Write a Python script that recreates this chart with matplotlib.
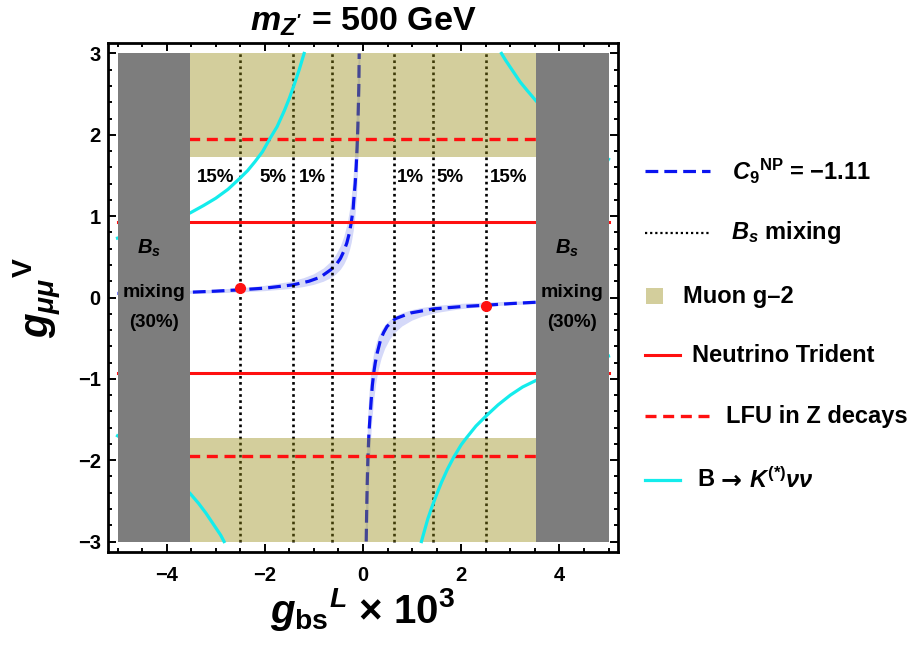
import matplotlib
matplotlib.use("Agg")
import matplotlib.pyplot as plt
from matplotlib.lines import Line2D
from matplotlib.patches import Rectangle

plt.rcParams['font.family'] = ['Liberation Sans', 'DejaVu Sans']
plt.rcParams['font.weight'] = 'bold'
plt.rcParams['mathtext.fontset'] = 'custom'
plt.rcParams['mathtext.rm'] = 'Liberation Sans:bold'
plt.rcParams['mathtext.it'] = 'Liberation Sans:italic:bold'
plt.rcParams['mathtext.bf'] = 'Liberation Sans:bold'
plt.rcParams['axes.unicode_minus'] = True

# ---------------- data ----------------
# C9^NP = -1.11 central curve (two branches)
c9_ul_x = [-5.0, -4.5, -4.0, -3.52, -3.0, -2.5, -2.0, -1.43, -1.1, -0.87, -0.66, -0.54,
           -0.46, -0.39, -0.33, -0.275, -0.235, -0.2, -0.188, -0.16, -0.14, -0.12, -0.105,
           -0.095, -0.085, -0.078]
c9_ul_y = [0.05, 0.055, 0.06, 0.065, 0.078, 0.095, 0.115, 0.155, 0.2, 0.25, 0.34, 0.41,
           0.48, 0.57, 0.67, 0.8, 0.94, 1.1, 1.2, 1.4, 1.6, 1.85, 2.1, 2.35, 2.6, 3.0]
c9_lr_x = [0.065, 0.075, 0.085, 0.098, 0.12, 0.145, 0.167, 0.19, 0.22, 0.25, 0.29, 0.357,
           0.42, 0.49, 0.66, 0.97, 1.43, 2.0, 2.5, 3.0, 3.52, 4.0, 4.5, 5.0]
c9_lr_y = [-3.0, -2.6, -2.3, -2.0, -1.67, -1.45, -1.26, -1.08, -0.92, -0.8, -0.68, -0.52,
           -0.43, -0.355, -0.26, -0.19, -0.14, -0.112, -0.095, -0.075, -0.058, -0.048,
           -0.042, -0.036]
# band edges around the C9 curve (|x|, |y| pairs, mirrored for the two branches)
band_x = [5.0, 4.0, 3.0, 2.5, 2.0, 1.5, 1.2, 1.0, 0.8, 0.65, 0.55, 0.45, 0.38, 0.32,
          0.27, 0.23, 0.19, 0.16, 0.13, 0.115, 0.1, 0.075, 0.05]
band_outer = [0.057, 0.071, 0.095, 0.114, 0.143, 0.19, 0.238, 0.285, 0.356, 0.438, 0.518,
              0.633, 0.75, 0.89, 1.056, 1.24, 1.5, 1.78, 2.19, 2.48, 2.85, 3.0, 3.0]
band_inner = [0.031, 0.039, 0.052, 0.062, 0.078, 0.103, 0.129, 0.155, 0.194, 0.238, 0.282,
              0.344, 0.408, 0.484, 0.574, 0.674, 0.816, 0.969, 1.19, 1.35, 1.55, 2.07, 3.0]
# benchmark points
bench_x = [-2.5, 2.5]
bench_y = [0.12, -0.11]

# Bs mixing contours (vertical dotted lines) and labels
bs_lines_x = [-2.5, -1.43, -0.64, 0.64, 1.43, 2.5]
bs_label_x = [-3.0, -1.83, -1.03, 0.97, 1.77, 2.97]
bs_labels = ['15%', '5%', '1%', '1%', '5%', '15%']
bs_label_y = 1.47
# Bs mixing (30%) excluded region |g_bs| > 3.52
bs_excl_x = [3.52, 5.0]
y_range = [-3.0, 3.0]

# Muon g-2 favoured band
muon_x = [-3.52, 3.52]
muon_y = [1.73, 3.0]

# Neutrino trident and LFU in Z decays
trident_y = 0.93
lfu_y = 1.95
line_x = [-5.0, 5.0]

# B -> K(*) nu nu bounds (four branches)
bk1_x = [-5.0, -4.75, -4.5, -4.25, -4.0, -3.75, -3.52, -3.25, -3.0, -2.75, -2.5, -2.35,
         -2.2, -2.05, -1.89, -1.75, -1.6, -1.5, -1.4, -1.3, -1.2]
bk1_y = [0.73, 0.77, 0.81, 0.86, 0.92, 0.98, 1.04, 1.13, 1.22, 1.33, 1.47, 1.56,
         1.67, 1.79, 1.96, 2.1, 2.3, 2.45, 2.62, 2.8, 3.0]
bk2_x = [1.19, 1.25, 1.32, 1.4, 1.5, 1.6, 1.72, 1.85, 2.0, 2.1, 2.3, 2.5, 2.75, 3.0,
         3.25, 3.52, 3.75, 4.0, 4.5, 5.0]
bk2_y = [-3.0, -2.87, -2.72, -2.58, -2.42, -2.27, -2.11, -1.96, -1.81, -1.73, -1.58,
         -1.46, -1.32, -1.2, -1.1, -1.02, -0.96, -0.9, -0.8, -0.72]
bk3_x = [2.82, 2.9, 3.0, 3.1, 3.2, 3.35, 3.52, 3.75, 4.0, 4.25, 4.5, 4.75, 5.0]
bk3_y = [3.0, 2.92, 2.83, 2.74, 2.65, 2.54, 2.42, 2.27, 2.12, 2.0, 1.89, 1.79, 1.7]
bk4_x = [-5.0, -4.75, -4.5, -4.25, -4.0, -3.75, -3.52, -3.35, -3.2, -3.1, -3.0, -2.9, -2.83]
bk4_y = [-1.7, -1.79, -1.89, -2.0, -2.12, -2.27, -2.41, -2.53, -2.65, -2.74, -2.83,
         -2.92, -3.0]

x_ticks = [-4, -2, 0, 2, 4]
y_ticks = [-3, -2, -1, 0, 1, 2, 3]

# ---------------- colours ----------------
BLUE = '#0a14f0'
OLIVE = (150/255, 140/255, 20/255)
GRAY = '#7d7d7d'
RED = '#ff1010'
CYAN = '#14ecec'

fig = plt.figure(figsize=(9.08, 6.53), dpi=100)
ax = fig.add_axes([0.1186, 0.1551, 0.5624, 0.7786])

# C9 band
for s in (1, -1):
    poly_x = [s * -v for v in band_x] + [s * -v for v in band_x[::-1]]
    poly_y = [s * v for v in band_outer] + [s * v for v in band_inner[::-1]]
    ax.fill(poly_x, poly_y, color=(0.25, 0.33, 0.9), alpha=0.22, lw=0, zorder=1)

# C9 curve
for xs, ys in ((c9_ul_x, c9_ul_y), (c9_lr_x, c9_lr_y)):
    ax.plot(xs, ys, color=BLUE, lw=2.3, dashes=(4, 1.9), zorder=2)

# Bs mixing dotted lines
for xv in bs_lines_x:
    ax.plot([xv, xv], y_range, color='black', lw=1.9, dashes=(1.0, 1.3), zorder=2)

# Muon g-2 bands
for s in (1, -1):
    ylo, yhi = sorted([s * muon_y[0], s * muon_y[1]])
    ax.add_patch(Rectangle((muon_x[0], ylo), muon_x[1] - muon_x[0], yhi - ylo,
                           facecolor=OLIVE, alpha=0.42, lw=0, zorder=3))

# Neutrino trident and LFU lines
for s in (1, -1):
    ax.plot(line_x, [s * trident_y] * 2, color=RED, lw=2.2, zorder=4)
    ax.plot(line_x, [s * lfu_y] * 2, color=RED, lw=2.4, dashes=(3.3, 2.0), zorder=4)

# B -> K nu nu
for xs, ys in ((bk1_x, bk1_y), (bk2_x, bk2_y), (bk3_x, bk3_y), (bk4_x, bk4_y)):
    ax.plot(xs, ys, color=CYAN, lw=2.3, zorder=4, solid_joinstyle='round')

# Bs mixing 30% excluded regions
for s in (1, -1):
    xlo, xhi = sorted([s * bs_excl_x[0], s * bs_excl_x[1]])
    ax.add_patch(Rectangle((xlo, y_range[0]), xhi - xlo, y_range[1] - y_range[0],
                           facecolor=GRAY, alpha=1.0, lw=0, zorder=5))

ax.plot(bench_x, bench_y, 'o', color=RED, ms=7, zorder=6)

for xv, lab in zip(bs_label_x, bs_labels):
    ax.text(xv, bs_label_y, lab, ha='center', va='center', fontsize=13.5,
            fontweight='bold', zorder=7)

for xc in (-4.25, 4.25):
    ax.text(xc - 0.1, 0.6, r'$B_s$', ha='center', va='center', fontsize=14.5, zorder=7)
    ax.text(xc, 0.06, 'mixing', ha='center', va='center', fontsize=14, zorder=7)
    ax.text(xc, -0.31, '(30%)', ha='center', va='center', fontsize=13.5, zorder=7)

ax.set_xlim(-5.2, 5.2)
ax.set_ylim(-3.125, 3.125)
ax.set_xticks(x_ticks)
ax.set_yticks(y_ticks)
ax.set_xticks([v / 2 for v in range(-10, 11)], minor=True)
ax.set_yticks([v / 5 for v in range(-15, 16)], minor=True)
ax.tick_params(which='both', direction='in', top=True, right=True, width=1.4)
ax.tick_params(which='major', length=5.5)
ax.tick_params(which='minor', length=3)
ax.tick_params(axis='x', which='major', pad=10, labelsize=14.5)
ax.tick_params(axis='y', which='major', pad=5, labelsize=14.5)
for lab in ax.get_xticklabels() + ax.get_yticklabels():
    lab.set_fontweight('bold')
for sp in ax.spines.values():
    sp.set_linewidth(2.0)

ax.set_title(r"$m_{Z'}$ = 500 GeV", fontsize=24.5, fontweight='bold', pad=9)
ax.set_xlabel(r'$g_{\mathrm{bs}}{}^{L}$ × 10$^{3}$', fontsize=29, fontweight='bold')
ax.xaxis.set_label_coords(0.5, -0.068)
ax.set_ylabel(r'$g_{\mu\mu}{}^{\mathrm{V}}$', fontsize=29, fontweight='bold')
ax.yaxis.set_label_coords(-0.085, 0.5)

# ---------------- legend (figure pixel layout) ----------------
W, H = 908, 653
def fx(px):
    return px / W
def fy(py):
    return 1 - py / H

legend_rows = [
    dict(kind='line', y=171, x1=710, color=BLUE, lw=2.3, dashes=(4, 1.9),
         text=r'$C_9{}^{\mathrm{NP}}$ = −1.11', tx=732),
    dict(kind='line', y=233, x1=710, color='black', lw=1.6, dashes=(1.0, 1.3),
         text=r'$B_s$ mixing', tx=731),
    dict(kind='square', y=296, color=OLIVE, text='Muon g–2', tx=683),
    dict(kind='line', y=355, x1=680, color=RED, lw=2.2, dashes=None,
         text='Neutrino Trident', tx=692),
    dict(kind='line', y=416, x1=710, color=RED, lw=2.4, dashes=(3.3, 2.0),
         text='LFU in Z decays', tx=726),
    dict(kind='line', y=480, x1=680, color=CYAN, lw=2.3, dashes=None,
         text=None, tx=697),
]
for r in legend_rows:
    if r['kind'] == 'line':
        ln = Line2D([fx(645), fx(r['x1'])], [fy(r['y']), fy(r['y'])],
                    transform=fig.transFigure, color=r['color'], lw=r['lw'])
        if r['dashes']:
            ln.set_dashes(r['dashes'])
        fig.add_artist(ln)
    else:
        fig.add_artist(Rectangle((fx(646), fy(r['y'] + 8)), fx(17), 16 / H,
                                 transform=fig.transFigure, facecolor=r['color'],
                                 alpha=0.42, lw=0))
    if r['text']:
        fig.text(fx(r['tx']), fy(r['y']), r['text'], ha='left', va='center',
                 fontsize=17, fontweight='bold')

# B -> K(*) nu nu entry: arrow drawn with DejaVu for a full-size glyph
fig.text(fx(697), fy(480), 'B', ha='left', va='center', fontsize=17, fontweight='bold')
fig.text(fx(721), fy(481), '→', ha='left', va='center', fontsize=18,
         fontweight='bold', family='DejaVu Sans')
fig.text(fx(749), fy(480), r'$K^{(*)}\nu\nu$', ha='left', va='center', fontsize=17)

fig.savefig('out.png', dpi=100)
